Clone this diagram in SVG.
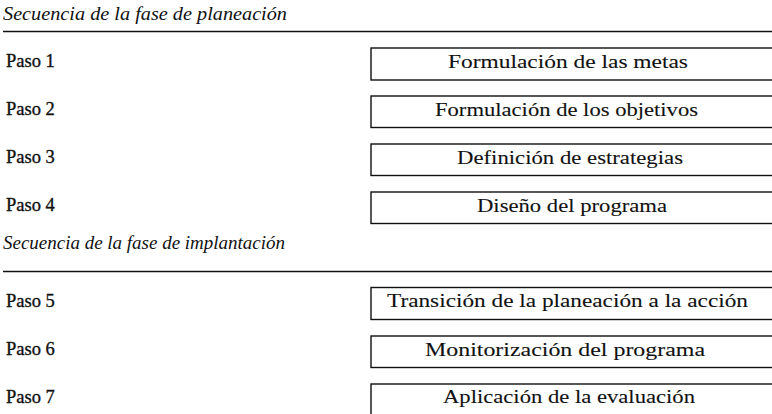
<svg xmlns="http://www.w3.org/2000/svg" width="772" height="414" viewBox="0 0 772 414">
<style>
.bg{fill:#fff}
.title{font-family:"Liberation Serif",serif;font-style:italic;font-size:19px;fill:#111}
.paso{font-family:"Liberation Serif",serif;font-size:18.5px;fill:#111;stroke:#111;stroke-width:0.35}
.box{fill:#fff;stroke:#111;stroke-width:1.4}
.lbl{font-family:"Liberation Serif",serif;font-size:18.5px;fill:#111;stroke:#111;stroke-width:0.1}
.rule{stroke:#111;stroke-width:1.6}
</style>
<rect class="bg" x="0" y="0" width="772" height="414"/>
<g id="sec1">
<text class="title" x="3" y="20" textLength="284" lengthAdjust="spacingAndGlyphs">Secuencia de la fase de planeación</text>
<line class="rule" x1="3" y1="31.5" x2="772" y2="31.5"/>
</g>
<g id="paso1"><text class="paso" x="6" y="67">Paso 1</text><rect class="box" x="371" y="48" width="410" height="32"/><text class="lbl" x="448" y="68" textLength="240" lengthAdjust="spacingAndGlyphs">Formulación de las metas</text></g>
<g id="paso2"><text class="paso" x="6" y="115">Paso 2</text><rect class="box" x="371" y="96" width="410" height="31.5"/><text class="lbl" x="435" y="116" textLength="263" lengthAdjust="spacingAndGlyphs">Formulación de los objetivos</text></g>
<g id="paso3"><text class="paso" x="6" y="163">Paso 3</text><rect class="box" x="371" y="144" width="410" height="31.5"/><text class="lbl" x="457" y="164" textLength="226" lengthAdjust="spacingAndGlyphs">Definición de estrategias</text></g>
<g id="paso4"><text class="paso" x="6" y="211">Paso 4</text><rect class="box" x="371" y="192" width="410" height="31.5"/><text class="lbl" x="477" y="212" textLength="190" lengthAdjust="spacingAndGlyphs">Diseño del programa</text></g>
<g id="sec2">
<text class="title" x="3" y="249" textLength="282" lengthAdjust="spacingAndGlyphs">Secuencia de la fase de implantación</text>
<line class="rule" x1="3" y1="271.5" x2="772" y2="271.5"/>
</g>
<g id="paso5"><text class="paso" x="6" y="307">Paso 5</text><rect class="box" x="371" y="287.5" width="410" height="32"/><text class="lbl" x="387" y="307" textLength="361" lengthAdjust="spacingAndGlyphs">Transición de la planeación a la acción</text></g>
<g id="paso6"><text class="paso" x="6" y="355">Paso 6</text><rect class="box" x="371" y="336" width="410" height="31.5"/><text class="lbl" x="425" y="356" textLength="280" lengthAdjust="spacingAndGlyphs">Monitorización del programa</text></g>
<g id="paso7"><text class="paso" x="6" y="403">Paso 7</text><rect class="box" x="371" y="384" width="410" height="40"/><text class="lbl" x="443" y="403" textLength="252" lengthAdjust="spacingAndGlyphs">Aplicación de la evaluación</text></g>
<g id="connectors"/>
</svg>
